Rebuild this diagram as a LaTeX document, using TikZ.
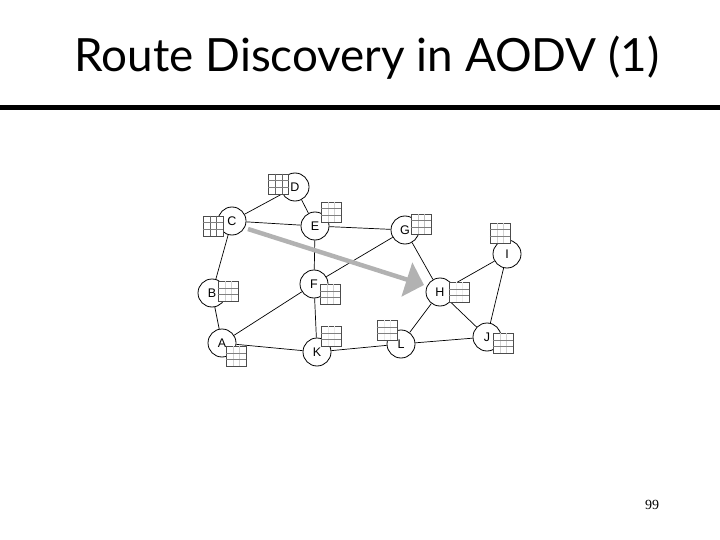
\documentclass[tikz,border=0pt]{standalone}
\usepackage{fontspec}
\setmainfont{Liberation Sans}
\newfontfamily\titlefont{Lato}
\newfontfamily\pagefont{Liberation Serif}
\usetikzlibrary{arrows.meta}

\begin{document}
\begin{tikzpicture}[
    x=1pt, y=-1pt,
    >=Stealth,
    station/.style={draw, circle, line width=0.8pt, fill=white, minimum size=28pt, inner sep=0pt, font=\fontsize{12.5}{12.5}\selectfont},
    link/.style={draw, line width=0.7pt},
    tablebox/.style={draw=black!70, line width=0.7pt, fill=white, minimum size=20pt, inner sep=0pt},
    rowline/.style={draw=black!50, line width=0.4pt},
    colline/.style={draw=black!\shadecol, line width=0.4pt}
]
\useasboundingbox (0,0) rectangle (720,540);

% stations
\foreach \name/\px/\py in {D/295/187, C/232/221, E/315/226, B/212/293, F/314/284, A/222/343,
                           K/317/352, G/405/230, H/440/292, I/507/254, J/487/337, L/401/344}
    \node[station] (\name) at (\px,\py) {\name};

% links
\foreach \from/\to in {D/C, D/E, C/E, C/B, B/A, A/F, A/K, E/F, E/G, F/G, F/K, K/L, G/H, H/I, H/J, H/L, I/J, L/J}
    \draw[link] (\from) -- (\to);

% route tables
\foreach \name/\px/\py/\shadecol in {D/278.5/184/60, C/213/226/60, E/331/212/18, B/228/291/18, F/330/294/18, A/236/356/18,
                           K/331/336/8, G/421/224/25, H/459/292/8, I/500/233/18, J/503/343/18, L/387/330/8} {
    \node[tablebox] (table\name) at (\px,\py) {};
    \draw[colline] ([xshift=-3.3pt]table\name.north) -- ([xshift=-3.3pt]table\name.south);
    \draw[colline] ([xshift=3.3pt]table\name.north) -- ([xshift=3.3pt]table\name.south);
    \draw[rowline] ([yshift=-3.3pt]table\name.west) -- ([yshift=-3.3pt]table\name.east);
    \draw[rowline] ([yshift=3.3pt]table\name.west) -- ([yshift=3.3pt]table\name.east);
}

% request arrow
\coordinate (start) at (248,229);
\coordinate (end) at (424,285);
\draw[->, >={Triangle[length=18pt,width=35pt]}, line width=4.5pt, black!30] (start) -- (end);

\node[font=\titlefont\fontsize{45.8}{46}\selectfont, anchor=base] (title) at (367,72) {Route Discovery in AODV (1)};
\fill[black] (0,105) rectangle (720,110.5);
\node[font=\pagefont\fontsize{14}{14}\selectfont] (page) at (652,505) {99};
\end{tikzpicture}
\end{document}
